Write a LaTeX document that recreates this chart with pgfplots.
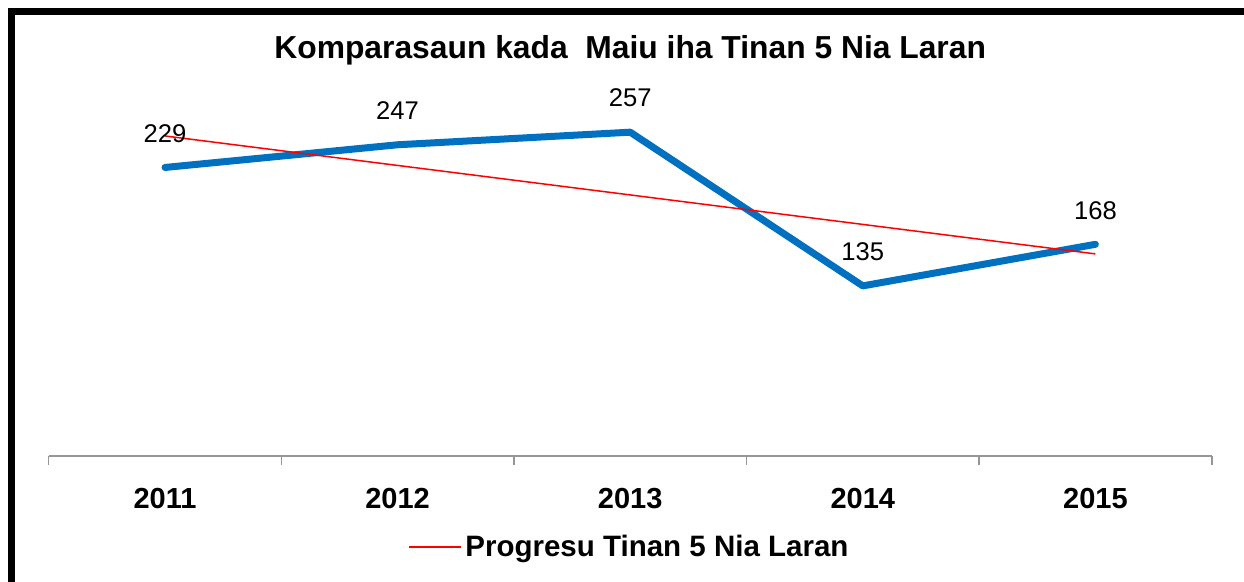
\documentclass[border=0pt]{standalone}
\usepackage{pgfplots}
\pgfplotsset{compat=1.18}
\usepackage{fontspec}
\setmainfont{Liberation Sans}
\definecolor{lineblue}{RGB}{0,112,192}
\definecolor{axgray}{RGB}{150,150,150}
\begin{document}
\begin{tikzpicture}
\useasboundingbox (-24.35pt,-63pt) rectangle (597.65pt,228pt);
\fill[white] (-24.35pt,-63pt) rectangle (597.65pt,228pt);
\begin{axis}[
  at={(0,0)}, anchor=south west,
  scale only axis,
  width=581.5pt, height=189pt,
  xmin=0.5, xmax=5.5, ymin=0, ymax=300,
  clip=false,
  axis lines*=left,
  y axis line style={draw=none},
  x axis line style={draw=axgray, line width=0.8pt},
  ytick=\empty,
  xtick={1,2,3,4,5},
  xticklabels={2011,2012,2013,2014,2015},
  major tick length=0pt,
  minor xtick={0.5,1.5,2.5,3.5,4.5,5.5},
  minor tick length=4.5pt,
  tick align=outside,
  minor tick style={draw=axgray, line width=0.8pt},
  xticklabel style={anchor=center, yshift=-21.5pt, font=\fontsize{14.5}{16}\selectfont\bfseries},
  every axis title shift=0pt,
  title={Komparasaun kada\ \ Maiu iha Tinan 5 Nia Laran},
  title style={at={(0.5,1.074)}, anchor=center, font=\fontsize{15.9}{18}\selectfont\bfseries},
  legend style={at={(0.5,-0.241)}, anchor=center, draw=none, fill=none,
    font=\fontsize{14.75}{17}\selectfont\bfseries, legend columns=1},
  legend image code/.code={\draw[#1] (0pt,0pt) -- (26pt,0pt);},
  /pgf/number format/.cd, 1000 sep={}, assume math mode=true,
]
\addplot[lineblue, line width=3.5pt, line join=round, line cap=round,
  nodes near coords,
  every node near coord/.append style={anchor=center, yshift=17pt, text=black, font=\fontsize{12.8}{15}\selectfont},
  forget plot]
  coordinates {(1,229) (2,247) (3,257) (4,135) (5,168)};
\addplot[red, line width=0.75pt] coordinates {(1,254) (5,160.4)};
\addlegendentry{Progresu Tinan 5 Nia Laran}
\end{axis}
\draw[black, line width=3.5pt] (-18.6pt,-63pt) -- (-18.6pt,222.25pt);
\draw[black, line width=3.5pt] (-20.35pt,222.25pt) -- (597.65pt,222.25pt);
\end{tikzpicture}
\end{document}
